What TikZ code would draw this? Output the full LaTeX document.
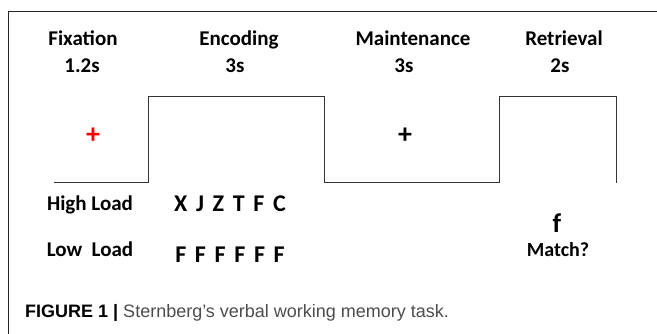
\documentclass[tikz,border=0pt]{standalone}
\usepackage{fontspec}
\usepackage{xcolor}
\setmainfont{Carlito}
\newfontfamily\capfont{Liberation Sans}
\newfontfamily\setfont[WordSpace=1.6]{Carlito}

\begin{document}
\begin{tikzpicture}[x=1pt,y=-1pt,
  phase/.style={anchor=base, font=\bfseries\fontsize{21}{25}\selectfont},
  letters/.style={anchor=base, font=\setfont\bfseries\fontsize{24}{28}\selectfont},
  cross/.style={anchor=center, font=\bfseries\fontsize{28}{30}\selectfont},
  wave/.style={line width=1pt, black!80}]
\useasboundingbox (0,0) rectangle (657,334);

% frame of the figure
\draw[line width=1pt, black!85] (8,334) -- (8,12) -- (657,12);

% phase names and durations
\node[phase] (fix) at (83,46) {Fixation};
\node[phase] (fixt) at (82,73) {1.2s};
\node[phase] (enc) at (239,46) {Encoding};
\node[phase] (enct) at (235,73) {3s};
\node[phase] (main) at (413,46) {Maintenance};
\node[phase] (maint) at (404,73) {3s};
\node[phase] (ret) at (564,46) {Retrieval};
\node[phase] (rett) at (560,73) {2s};

% time course
\draw[wave] (54,183) -- (148,183) -- (148,97) -- (324,97) -- (324,183)
  -- (499,183) -- (499,97) -- (616,97) -- (616,183);

% fixation crosses
\node[cross, red] (cross1) at (93,136) {+};
\node[cross] (cross2) at (405,136) {+};

% load conditions
\node[phase] (high) at (90,211) {High Load};
\node[phase] (low) at (90,257) {Low\ \ Load};
\node[letters] (highset) at (230,212) {X J Z T F C};
\node[letters] (lowset) at (230,262) {F F F F F F};

% probe
\node[letters, font=\bfseries\fontsize{27}{30}\selectfont] (probe) at (557,233) {f};
\node[phase, font=\bfseries\fontsize{20}{24}\selectfont] (match) at (558,257) {Match?};

% caption
\node[anchor=base west, inner sep=0pt, font=\capfont\fontsize{18}{21}\selectfont, black!70] (cap) at (25,318)
  {\textcolor{black}{\textbf{FIGURE 1 |}} Sternberg’s verbal working memory task.};
\end{tikzpicture}
\end{document}
